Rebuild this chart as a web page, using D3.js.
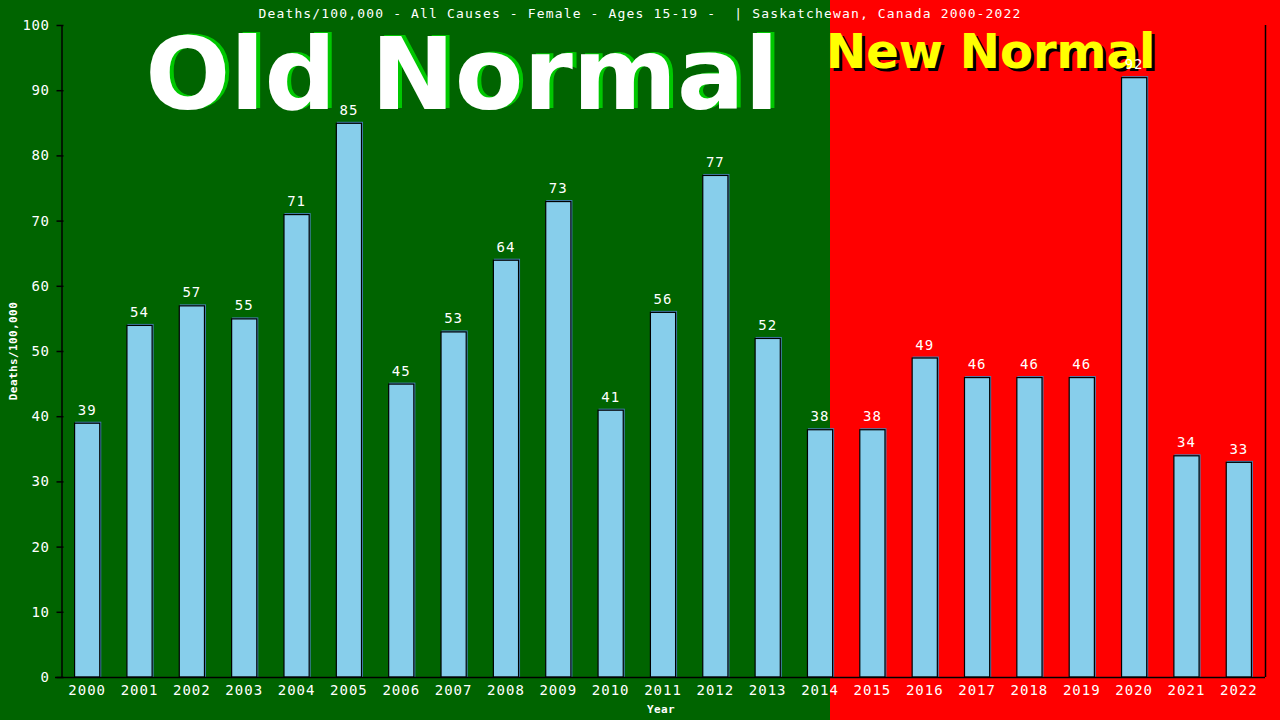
<!DOCTYPE html>
<html><head><meta charset="utf-8">
<script src="https://cdn.jsdelivr.net/npm/d3@7"></script>
<style>html,body{margin:0;padding:0;background:#006400;overflow:hidden}</style>
</head><body>
<svg id="chart" width="1280" height="720"></svg>
<script>
const years = ["2000","2001","2002","2003","2004","2005","2006","2007","2008","2009","2010","2011","2012","2013","2014","2015","2016","2017","2018","2019","2020","2021","2022"];
const deaths = [39,54,57,55,71,85,45,53,64,73,41,56,77,52,38,38,49,46,46,46,92,34,33];
const yTicks = [0,10,20,30,40,50,60,70,80,90,100];
const titleText = "Deaths/100,000 - All Causes - Female - Ages 15-19 -  | Saskatchewan, Canada 2000-2022";

(function(){
const W = 1280, H = 720;
const pL = 61, pR = 1265, pT = 25, pB = 677;
const svg = d3.select("#chart");
const mono = "'DejaVu Sans Mono', 'Liberation Mono', monospace";

svg.append("rect").attr("x",0).attr("y",0).attr("width",830).attr("height",H).attr("fill","#006400");
svg.append("rect").attr("x",830).attr("y",0).attr("width",W-830).attr("height",H).attr("fill","#ff0000");

const x = d3.scaleBand().domain(years).range([pL,pR]).paddingInner(0.5).paddingOuter(0.25);
const y = d3.scaleLinear().domain([0,100]).range([pB,pT]);

const oldG = svg.append("g").attr("font-family","'DejaVu Sans', sans-serif").attr("font-weight","bold").attr("font-size",100).attr("text-anchor","middle");
oldG.append("text").attr("x",466).attr("y",108).attr("fill","#00c800").text("Old Normal");
oldG.append("text").attr("x",462).attr("y",109).attr("fill","#ffffff").text("Old Normal");

const newG = svg.append("g").attr("font-family","'DejaVu Sans', sans-serif").attr("font-weight","bold").attr("font-size",48);
newG.append("text").attr("x",829).attr("y",71).attr("fill","#000000").text("New Normal");
newG.append("text").attr("x",826).attr("y",68).attr("fill","#ffff00").text("New Normal");

const bars = svg.append("g");
bars.selectAll("rect.sh").data(deaths).join("rect").attr("class","sh")
  .attr("x",(d,i)=>x(years[i])+1).attr("y",d=>y(d)-1)
  .attr("width",x.bandwidth()).attr("height",d=>pB-y(d)+1)
  .attr("fill","#4682b4");
bars.selectAll("rect.b").data(deaths).join("rect").attr("class","b")
  .attr("x",(d,i)=>x(years[i])+0.5).attr("y",d=>y(d)+0.5)
  .attr("width",x.bandwidth()-1).attr("height",d=>pB-y(d)-0.5)
  .attr("fill","#87ceeb").attr("stroke","#000").attr("stroke-width",1.2);

svg.append("g").selectAll("text").data(deaths).join("text")
  .attr("x",(d,i)=>x(years[i])+x.bandwidth()/2).attr("y",d=>y(d)-8)
  .attr("text-anchor","middle").attr("fill","#fff")
  .attr("font-family",mono).attr("font-size",14).attr("letter-spacing",1)
  .text(d=>d);

const yAxis = d3.axisLeft(y).tickValues(yTicks).tickSize(5).tickPadding(7).tickSizeOuter(0);
const ya = svg.append("g").attr("transform",`translate(${pL+0.5},0)`).call(yAxis);
ya.select(".domain").attr("stroke","#000").attr("stroke-width",1.5);
ya.selectAll(".tick line").attr("stroke","#000").attr("stroke-width",1.5).attr("x2",-5).attr("x1",2);
ya.selectAll(".tick text").attr("fill","#fff").attr("font-family",mono).attr("font-size",14).attr("letter-spacing",0.6);

const xAxis = d3.axisBottom(x).tickSize(0).tickPadding(5).tickSizeOuter(0);
const xa = svg.append("g").attr("transform",`translate(0,${pB+0.5})`).call(xAxis);
xa.select(".domain").attr("stroke","#000").attr("stroke-width",1.5).attr("d",`M${pL-6},0H${pR}`);
xa.selectAll(".tick text").attr("fill","#fff").attr("font-family",mono).attr("font-size",14).attr("letter-spacing",1).attr("dy","0.9em");

svg.append("line").attr("x1",pR+0.5).attr("x2",pR+0.5).attr("y1",pT).attr("y2",pB)
  .attr("stroke","#000").attr("stroke-width",1.5);

svg.append("text").attr("x",640).attr("y",18).attr("text-anchor","middle").attr("fill","#fff")
  .attr("font-family",mono).attr("font-size",13).attr("letter-spacing",1.15)
  .style("white-space","pre").text(titleText);

svg.append("text").attr("transform","translate(17,351) rotate(-90)").attr("text-anchor","middle")
  .attr("fill","#fff").attr("font-family",mono).attr("font-weight","bold").attr("font-size",11)
  .attr("letter-spacing",0.4).text("Deaths/100,000");
svg.append("text").attr("x",661).attr("y",713).attr("text-anchor","middle")
  .attr("fill","#fff").attr("font-family",mono).attr("font-weight","bold").attr("font-size",11)
  .attr("letter-spacing",0.4).text("Year");
})();
</script>
</body></html>
